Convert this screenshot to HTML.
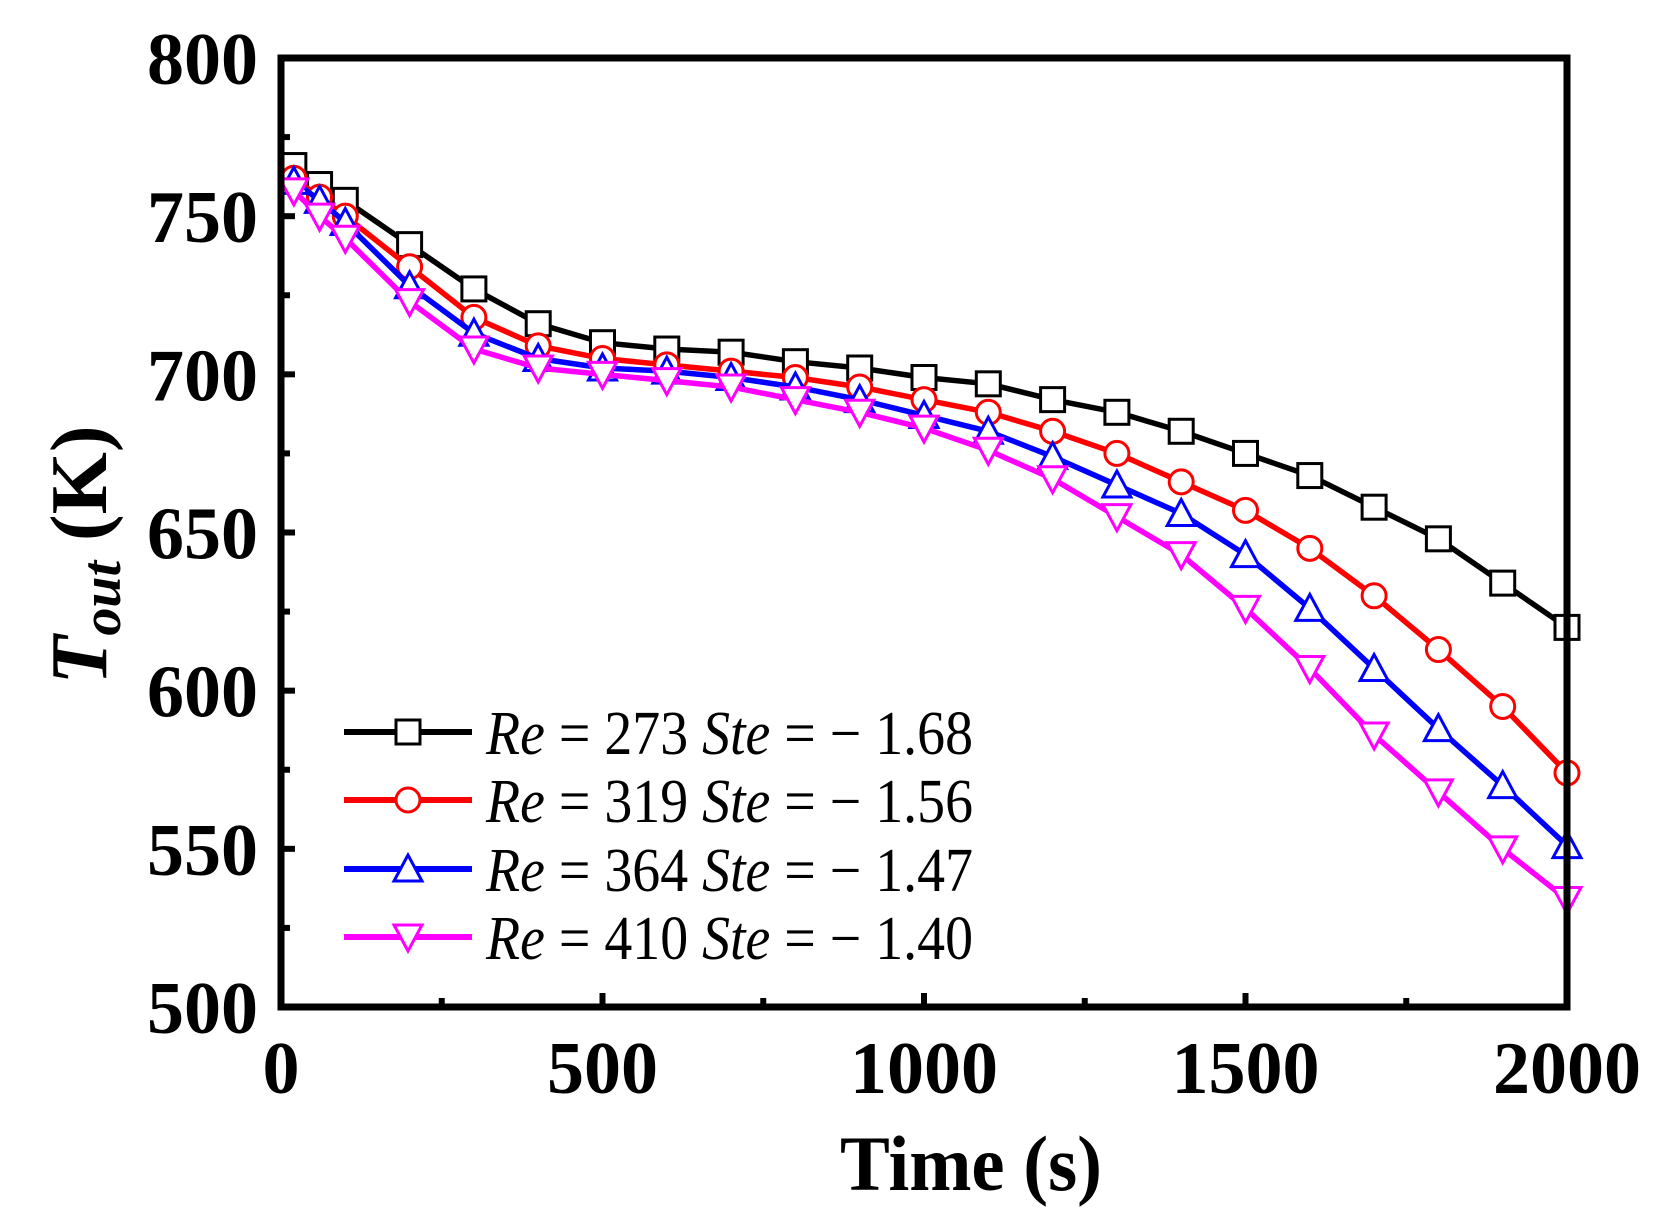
<!DOCTYPE html>
<html><head><meta charset="utf-8"><style>
html,body{margin:0;padding:0;background:#fff;}
svg{display:block;}
</style></head><body>
<svg id="chart" width="1664" height="1222" xmlns="http://www.w3.org/2000/svg">
<g id="plot"></g>
</svg>
<script>
const xs = [20,60,100,200,300,400,500,600,700,800,900,1000,1100,1200,1300,1400,1500,1600,1700,1800,1900,2000];
const sBlack = [766,760,755,741,727,716,710,708,707,704,702,699,697,692,688,682,675,668,658,648,634,620];
const sRed = [762,756,750,734,718,709,705,703,701,699,696,692,688,682,675,666,657,645,630,613,595,574];
const sBlue = [761,755,748,728,713,705,702,701,699,696,692,687,682,674,665,656,643,626,607,588,570,551];
const sMagenta = [758,750,743,723,708,702,700,698,696,692,688,683,676,667,655,643,626,607,586,568,550,534];
const xTicks = [0,500,1000,1500,2000];
const yTicks = [500,550,600,650,700,750,800];
const legendLabels = [["273","1.68"],["319","1.56"],["364","1.47"],["410","1.40"]];

const L=281,R=1567,T=58,B=1007;
const X=v=>L+(v-0)/(2000-0)*(R-L);
const Y=v=>B-(v-500)/(800-500)*(B-T);
const NS="http://www.w3.org/2000/svg";
const g=document.getElementById('plot');
function el(tag,attrs,parent){const e=document.createElementNS(NS,tag);for(const k in attrs)e.setAttribute(k,attrs[k]);(parent||g).appendChild(e);return e;}

function marker(type,x,y,color,parent){
  const s=12;let m;
  if(type==='sq') m=el('rect',{x:x-s,y:y-s,width:2*s,height:2*s,fill:'#fff',stroke:color,'stroke-width':3},parent);
  else if(type==='ci') m=el('circle',{cx:x,cy:y,r:s,fill:'#fff',stroke:color,'stroke-width':3},parent);
  else if(type==='up') m=el('polygon',{points:`${x},${y-s-2} ${x-s-2},${y+s} ${x+s+2},${y+s}`,fill:'#fff',stroke:color,'stroke-width':3},parent);
  else m=el('polygon',{points:`${x},${y+s+2} ${x-s-2},${y-s} ${x+s+2},${y-s}`,fill:'#fff',stroke:color,'stroke-width':3},parent);
  return m;
}

const series=[[sBlack,'#000','sq'],[sRed,'#ff0000','ci'],[sBlue,'#0000ff','up'],[sMagenta,'#ff00ff','dn']];
const names=['series-re273','series-re319','series-re364','series-re410'];
series.forEach((s,i)=>{
  const sg=el('g',{});
  
  
  const pl=el('polyline',{points:xs.map((x,j)=>X(x)+','+Y(s[0][j])).join(' '),fill:'none',stroke:s[1],'stroke-width':5.5,'stroke-linejoin':'round'},sg);
  
  
  xs.forEach((x,j)=>{
    const m=marker(s[2],X(x),Y(s[0][j]),s[1],sg);
    
    
  });
});

const fr=el('rect',{x:L,y:T,width:R-L,height:B-T,fill:'none',stroke:'#000','stroke-width':7});



for(let v=500;v<=800;v+=25){
  const major=v%50===0;
  const t=el('line',{x1:L,x2:L+(major?14:9),y1:Y(v),y2:Y(v),stroke:'#000','stroke-width':6});
  
  
}
yTicks.forEach(v=>{
  const t=el('text',{x:258,y:Y(v)+26,'text-anchor':'end','font-family':'Liberation Serif, serif','font-weight':'bold','font-size':74});
  t.textContent=v;
  
  
});
for(let v=0;v<=2000;v+=250){
  const major=v%500===0;
  const t=el('line',{x1:X(v),x2:X(v),y1:B,y2:B-(major?14:9),stroke:'#000','stroke-width':6});
  
  
}
xTicks.forEach(v=>{
  const t=el('text',{x:X(v),y:1093,'text-anchor':'middle','font-family':'Liberation Serif, serif','font-weight':'bold','font-size':74});
  t.textContent=v;
  
  
});

const xt=el('text',{x:971,y:1190,'text-anchor':'middle','font-family':'Liberation Serif, serif','font-weight':'bold','font-size':78,textLength:262,lengthAdjust:'spacingAndGlyphs'});
xt.textContent='Time (s)';


const yt=el('text',{x:0,y:0,'text-anchor':'middle','font-family':'Liberation Serif, serif','font-weight':'bold','font-size':80,transform:'translate(106,555) rotate(-90)'});
yt.innerHTML='<tspan font-style="italic">T</tspan><tspan font-style="italic" font-size="56" dy="14">out</tspan><tspan dy="-14"> (K)</tspan>';



const lg=el('g',{});


const rows=[732,800,869,937];
series.forEach((s,i)=>{
  const eg=el('g',{},lg);
  
  
  el('line',{x1:344,x2:472,y1:rows[i],y2:rows[i],stroke:s[1],'stroke-width':6},eg);
  marker(s[2],408,rows[i],s[1],eg);
  const t=el('text',{x:486,y:rows[i]+22,'font-family':'Liberation Serif, serif','font-size':62,textLength:487,lengthAdjust:'spacingAndGlyphs'},eg);
  t.innerHTML='<tspan font-style="italic">Re</tspan> = '+legendLabels[i][0]+' <tspan font-style="italic">Ste</tspan> = − '+legendLabels[i][1];
});
</script>
</body></html>
